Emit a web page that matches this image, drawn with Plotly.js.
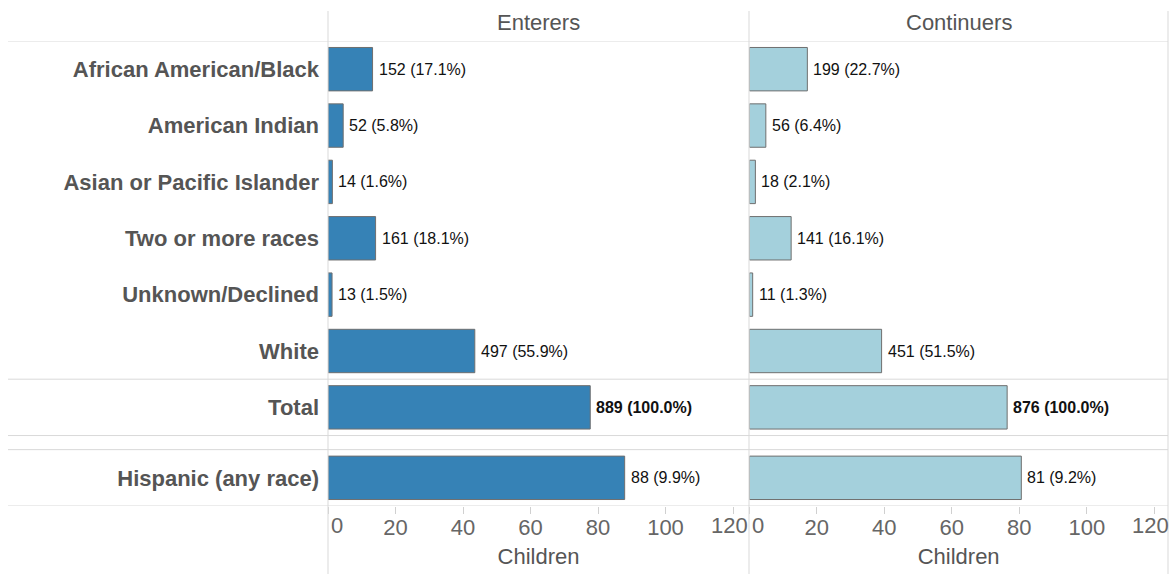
<!DOCTYPE html>
<html>
<head>
<meta charset="utf-8">
<script src="https://cdn.plot.ly/plotly-3.0.1.min.js"></script>
<style>html,body{margin:0;padding:0;background:#fff;}#chart{width:1171px;height:574px;}</style>
</head>
<body>
<div id="chart"></div>
<script>
// ---- data ----
const categories = ['African American/Black','American Indian','Asian or Pacific Islander','Two or more races','Unknown/Declined','White','Total','Hispanic (any race)'];
const panels = ['Enterers','Continuers'];
const enterersCount = [152, 52, 14, 161, 13, 497, 889, 88];
const enterersPct   = [17.1, 5.8, 1.6, 18.1, 1.5, 55.9, 100.0, 9.9];
const enterersBar   = [13.2, 4.5, 1.3, 14.1, 1.2, 43.5, 77.7, 87.9];
const continuersCount = [199, 56, 18, 141, 11, 451, 876, 81];
const continuersPct   = [22.7, 6.4, 2.1, 16.1, 1.3, 51.5, 100.0, 9.2];
const continuersBar   = [17.2, 4.9, 1.8, 12.4, 1.0, 39.2, 76.4, 80.6];
const xTicks = [0, 20, 40, 60, 80, 100, 120];
const xTitle = 'Children';

// ---- layout helpers ----
const FONT = '"Liberation Sans", Arial, sans-serif';
const BIG = 22;
const rowPos = categories.map((c, i) => i < 7 ? i : i + 0.25);
const W = 1171, H = 574, ML = 328, MR = 3, MT = 41, MB = 68;
const PW = W - ML - MR, PH = H - MT - MB;
const pxPerUnit = 3.375;
const split = (749 - ML) / PW;
const split2 = (749.3 - ML) / PW;
const r1 = (749 - ML) / pxPerUnit;
const r2 = (W - MR - 749.3) / pxPerUnit;
const tickY = -(525 - (H - MB)) / PH;

const colE = '#3682b6', colC = '#a4d0dc', outline = '#6f6f6f', gridC = '#d9d9d9';

const traces = [
  {type: 'bar', orientation: 'h', x: enterersBar, y: rowPos, xaxis: 'x', yaxis: 'y', width: 0.77,
   marker: {color: colE, line: {color: outline, width: 1}}, hoverinfo: 'skip', name: panels[0]},
  {type: 'bar', orientation: 'h', x: continuersBar, y: rowPos, xaxis: 'x2', yaxis: 'y', width: 0.77,
   marker: {color: colC, line: {color: outline, width: 1}}, hoverinfo: 'skip', name: panels[1]}
];

const annotations = [];
function addLabels(bars, counts, pcts, xref) {
  bars.forEach((v, i) => {
    const bold = categories[i] === 'Total';
    annotations.push({
      xref: xref, yref: 'y', x: v, y: rowPos[i], xanchor: 'left', yanchor: 'middle', xshift: 4,
      text: counts[i] + ' (' + pcts[i].toFixed(1) + '%)', showarrow: false,
      font: {family: FONT, size: 16, color: '#111', weight: bold ? 'bold' : 'normal'}
    });
  });
}
addLabels(enterersBar, enterersCount, enterersPct, 'x');
addLabels(continuersBar, continuersCount, continuersPct, 'x2');

// panel headers
annotations.push({xref: 'x domain', yref: 'paper', x: 0.5, y: 1 + (MT - 22.5) / PH, text: panels[0], showarrow: false,
  yanchor: 'middle', font: {family: FONT, size: BIG, color: '#555'}});
annotations.push({xref: 'x2 domain', yref: 'paper', x: 0.5, y: 1 + (MT - 22.5) / PH, text: panels[1], showarrow: false,
  yanchor: 'middle', font: {family: FONT, size: BIG, color: '#555'}});

// first and last tick labels kept inside their panels
['x', 'x2'].forEach(ax => {
  annotations.push({xref: ax, yref: 'paper', x: xTicks[0], y: tickY, text: String(xTicks[0]),
    showarrow: false, xanchor: 'left', yanchor: 'middle', xshift: 1, font: {family: FONT, size: BIG, color: '#666'}});
  annotations.push({xref: ax, yref: 'paper', x: xTicks[xTicks.length - 1], y: tickY,
    text: String(xTicks[xTicks.length - 1]), showarrow: false, xanchor: 'center', yanchor: 'middle', xshift: -4,
    font: {family: FONT, size: BIG, color: '#666'}});
});

const shapes = [];
[-0.5, 5.5, 6.5, 6.75, 7.75].forEach(y => shapes.push({type: 'line', xref: 'paper', yref: 'y',
  x0: (8 - ML) / PW, x1: 1, y0: y, y1: y, line: {color: gridC, width: 1}}));
[0, split, 1].forEach(x => shapes.push({type: 'line', xref: 'paper', yref: 'paper',
  x0: x, x1: x, y0: -MB / PH, y1: 1 + (MT - 11) / PH, line: {color: gridC, width: 1}}));

const xCommon = {
  tickvals: xTicks, ticktext: xTicks.map((t, i) => (i === 0 || i === xTicks.length - 1) ? '' : String(t)),
  ticks: 'outside', ticklen: 7, tickcolor: '#d0d0d0', tickwidth: 1, ticklabelstandoff: -5,
  tickfont: {family: FONT, size: BIG, color: '#666'},
  showgrid: false, zeroline: false, showline: false, fixedrange: true,
  title: {text: xTitle, font: {family: FONT, size: BIG, color: '#555'}, standoff: 9}
};

const layout = {
  width: W, height: H,
  margin: {l: ML, r: MR, t: MT, b: MB},
  paper_bgcolor: '#fff', plot_bgcolor: 'rgba(0,0,0,0)',
  showlegend: false, bargap: 0,
  xaxis: Object.assign({}, xCommon, {domain: [0, split], range: [0, r1], anchor: 'y'}),
  xaxis2: Object.assign({}, xCommon, {domain: [split2, 1], range: [0, r2], anchor: 'y'}),
  yaxis: {
    range: [7.75, -0.5], tickvals: rowPos, ticktext: categories, ticks: '', ticklabelstandoff: 8,
    tickfont: {family: FONT, size: BIG, color: '#555', weight: 'bold'},
    showgrid: false, zeroline: false, showline: false, fixedrange: true
  },
  shapes: shapes, annotations: annotations
};

Plotly.newPlot('chart', traces, layout, {displayModeBar: false, staticPlot: true});
</script>
</body>
</html>
